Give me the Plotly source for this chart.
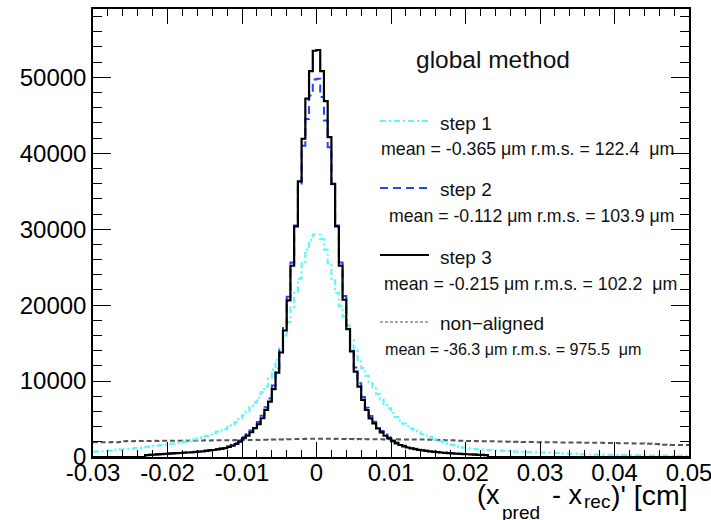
import numpy as np
import plotly.graph_objects as go

# ---------------- data ----------------
bin_lo = -0.03
bin_w = 0.0005
n_bins = 160

x_tick_vals = [-0.03, -0.02, -0.01, 0, 0.01, 0.02, 0.03, 0.04, 0.05]
x_tick_text = ["-0.03", "-0.02", "-0.01", "0", "0.01", "0.02", "0.03", "0.04", "0.05"]
y_tick_vals = [0, 10000, 20000, 30000, 40000, 50000]
y_tick_text = ["0", "10000", "20000", "30000", "40000", "50000"]

step1_counts = [
    700, 730, 760, 790, 830, 890, 940, 980, 1020, 1060,
    1110, 1160, 1210, 1260, 1330, 1390, 1450, 1510, 1570, 1630,
    1690, 1760, 1840, 1920, 2000, 2090, 2200, 2320, 2450, 2600,
    2780, 2960, 3150, 3330, 3500, 3680, 3950, 4250, 4600, 5000,
    5500, 6000, 6600, 7200, 7800, 8500, 9300, 10300, 11500, 12800,
    14500, 16000, 17800, 19700, 21600, 23500, 25500, 27300, 28600, 29300,
    29300, 28700, 27300, 25500, 23500, 21600, 19900, 18500, 17300, 15500,
    14100, 12800, 11700, 10700, 9900, 9200, 8300, 7600, 7000, 6400,
    5800, 5250, 4800, 4400, 4050, 3750, 3480, 3230, 3020, 2820,
    2640, 2470, 2280, 2080, 1900, 1740, 1590, 1460, 1340, 1240,
    1160, 1100, 1050, 1010, 975, 945, 920, 890, 860, 830,
    800, 770, 740, 715, 695, 680, 660, 640, 620, 605,
    590, 580, 570, 550, 525, 500, 475, 450, 425, 400,
    380, 360, 345, 330, 320, 310, 300, 290, 282, 274,
    266, 258, 250, 242, 235, 228, 221, 214, 207, 200,
    194, 188, 182, 176, 170, 165, 160, 155, 150, 146,
]

step2_counts = [
    0, 0, 0, 0, 0, 0, 0, 0, 0, 0,
    0, 0, 0, 0, 260, 300, 330, 370, 400, 430,
    460, 490, 520, 550, 590, 620, 660, 700, 740, 790,
    850, 910, 980, 1060, 1150, 1260, 1400, 1590, 1830, 2160,
    2620, 3000, 3480, 4030, 4620, 5420, 6550, 7700, 9400, 11650,
    14300, 17200, 21100, 25600, 30500, 35800, 41000, 44500, 47600, 49700,
    49800, 47400, 44300, 40800, 35600, 30500, 25600, 21200, 17400, 14400,
    11800, 9700, 7900, 6500, 5400, 4650, 3980, 3420, 2960, 2580,
    2220, 1900, 1670, 1480, 1320, 1190, 1080, 990, 910, 840,
    770, 710, 660, 620, 580, 540, 500, 470, 440, 410,
    380, 350, 330, 300, 280, 260, 0, 0, 0, 0,
    0, 0, 0, 0, 0, 0, 0, 0, 0, 0,
    0, 0, 0, 0, 0, 0, 0, 0, 0, 0,
    0, 0, 0, 0, 0, 0, 0, 0, 0, 0,
    0, 0, 0, 0, 0, 0, 0, 0, 0, 0,
    0, 0, 0, 0, 0, 0, 0, 0, 0, 0,
]

step3_counts = [
    0, 0, 0, 0, 0, 0, 0, 0, 0, 0,
    0, 0, 0, 0, 250, 290, 320, 350, 380, 410,
    440, 470, 500, 530, 560, 590, 620, 660, 700, 750,
    800, 860, 920, 1000, 1080, 1180, 1320, 1490, 1710, 2020,
    2470, 2810, 3260, 3790, 4310, 5100, 6200, 7290, 8930, 11120,
    13760, 16660, 20620, 25190, 30380, 36300, 41910, 47190, 50830, 53500,
    53600, 50830, 46870, 42120, 35970, 30380, 25190, 20710, 16840, 13900,
    11250, 9270, 7510, 6190, 5090, 4430, 3770, 3240, 2800, 2450,
    2100, 1800, 1580, 1400, 1250, 1130, 1030, 940, 860, 790,
    730, 680, 630, 590, 550, 510, 480, 450, 420, 390,
    360, 330, 310, 290, 270, 250, 0, 0, 0, 0,
    0, 0, 0, 0, 0, 0, 0, 0, 0, 0,
    0, 0, 0, 0, 0, 0, 0, 0, 0, 0,
    0, 0, 0, 0, 0, 0, 0, 0, 0, 0,
    0, 0, 0, 0, 0, 0, 0, 0, 0, 0,
    0, 0, 0, 0, 0, 0, 0, 0, 0, 0,
]

nonaligned_counts = [
    1940, 1950, 1930, 1950, 1940, 1960, 1950, 1970, 2090, 2100,
    2090, 2110, 2100, 2120, 2110, 2120, 2130, 2110, 2130, 2140,
    2130, 2150, 2140, 2150, 2160, 2150, 2170, 2160, 2180, 2170,
    2190, 2180, 2200, 2190, 2210, 2200, 2220, 2210, 2230, 2220,
    2240, 2230, 2250, 2260, 2250, 2270, 2280, 2270, 2300, 2310,
    2320, 2330, 2340, 2350, 2360, 2370, 2380, 2390, 2400, 2410,
    2410, 2400, 2390, 2400, 2380, 2390, 2370, 2380, 2360, 2370,
    2350, 2360, 2340, 2350, 2340, 2330, 2340, 2330, 2320, 2330,
    2320, 2330, 2320, 2310, 2320, 2310, 2300, 2310, 2290, 2300,
    2280, 2270, 2250, 2240, 2220, 2200, 2190, 2170, 2150, 2140,
    2120, 2110, 2100, 2090, 2080, 2080, 2070, 2060, 2050, 2040,
    2030, 2020, 2010, 2000, 1990, 1980, 1970, 1960, 1960, 1950,
    1950, 1940, 1940, 1930, 1930, 1920, 1920, 1910, 1910, 1900,
    1900, 1890, 1890, 1880, 1880, 1870, 1870, 1860, 1850, 1840,
    1830, 1820, 1810, 1800, 1800, 1790, 1790, 1780, 1770, 1760,
    1750, 1700, 1620, 1610, 1600, 1590, 1590, 1580, 1580, 1570,
]

legend_title = "global method"
series_names = ["step 1", "step 2", "step 3", "non\u2212aligned"]
series_stats = [
    "mean = -0.365 \u03bcm r.m.s. = 122.4  \u03bcm",
    "mean = -0.112 \u03bcm r.m.s. = 103.9 \u03bcm",
    "mean = -0.215 \u03bcm r.m.s. = 102.2  \u03bcm",
    "mean = -36.3 \u03bcm r.m.s. = 975.5  \u03bcm",
]

# ---------------- figure ----------------
FONT = "Liberation Sans, Arial, Helvetica, sans-serif"
edges = bin_lo + bin_w * np.arange(n_bins + 1)

def hist_trace(vals, color, width, dash):
    y = list(vals) + [vals[-1]]
    return go.Scatter(x=edges, y=y, mode="lines", line_shape="hv",
                      line=dict(color=color, width=width, dash=dash),
                      showlegend=False, hoverinfo="skip")

styles = [
    ("#62f4ff", 2.2, "6px,3px,2px,3px"),   # step 1
    ("#2244ff", 2.0, "8px,5px"),           # step 2
    ("#000000", 2.2, "solid"),             # step 3
    ("#555555", 2.0, "5px,3px"),           # non-aligned
]

fig = go.Figure()
fig.add_trace(hist_trace(nonaligned_counts, *styles[3]))
fig.add_trace(hist_trace(step1_counts, *styles[0]))
fig.add_trace(hist_trace(step2_counts, *styles[1]))
fig.add_trace(hist_trace(step3_counts, *styles[2]))

# legend-like text block
L, R, T, B = 93, 689, 9, 457
def px(x):
    return (x - L) / (R - L)
def py(y):
    return (B - y) / (B - T)

def txt(x, y, s, size, anchor="left", color="#111"):
    fig.add_annotation(x=px(x), y=py(y), xref="paper", yref="paper",
                       text=s, showarrow=False, xanchor=anchor,
                       yanchor="middle", font=dict(family=FONT, size=size, color=color))

txt(493, 60, legend_title, 24.5, anchor="center")

entry_y = [121, 188, 255, 322]
name_y = [123, 190, 257, 323]
stat_y = [149, 216, 284, 349]
stat_x = [379, 387, 382, 383]
stat_size = [17.8, 17.7, 17.8, 16.1]
line_dash = ["6px,3px,2px,3px", "8px,5px", "solid", "3px,2px"]
line_w = [2.0, 2.0, 2.2, 1.2]
for k in range(4):
    color = styles[k][0]
    fig.add_shape(type="line", xref="paper", yref="paper",
                  x0=px(380), x1=px(429), y0=py(entry_y[k]), y1=py(entry_y[k]),
                  line=dict(color=color, width=line_w[k], dash=line_dash[k]))
    txt(438, name_y[k], series_names[k], 19)
    txt(stat_x[k], stat_y[k], series_stats[k], stat_size[k])

# x-axis title, built from pieces (main text and lowered subscripts)
TS = 27
SS = 19
txt(475, 495, "(x", TS, color="black")
txt(500, 512, "pred", SS, color="black")
txt(550, 495, "- x", TS, color="black")
txt(582, 501, "rec", SS, color="black")
txt(690, 495, ")' [cm]", 28.5, anchor="right", color="black")

axis_common = dict(showgrid=False, zeroline=False, showline=True, mirror="ticks",
                   linecolor="black", linewidth=1.5, ticks="inside",
                   tickcolor="black", tickwidth=1, automargin=False,
                   ticklabeloverflow="allow",
                   tickfont=dict(family=FONT, size=24, color="black"))

fig.update_xaxes(range=[-0.03 - 1e-7, 0.05 + 1e-7], tickvals=x_tick_vals, ticktext=x_tick_text,
                 ticklen=15, ticklabelstandoff=-7,
                 minor=dict(dtick=0.002, tick0=0, ticklen=7, ticks="inside",
                            tickcolor="black", tickwidth=1, showgrid=False),
                 **axis_common)
fig.update_yaxes(range=[0, 59000], tickvals=y_tick_vals, ticktext=y_tick_text,
                 ticklen=18,
                 minor=dict(dtick=2000, tick0=0, ticklen=9, ticks="inside",
                            tickcolor="black", tickwidth=1, showgrid=False),
                 **axis_common)

fig.update_layout(width=711, height=520,
                  margin=dict(l=L, r=711 - R, t=T, b=520 - B, autoexpand=False),
                  paper_bgcolor="white", plot_bgcolor="white",
                  font=dict(family=FONT))

fig.write_html("out.html")
